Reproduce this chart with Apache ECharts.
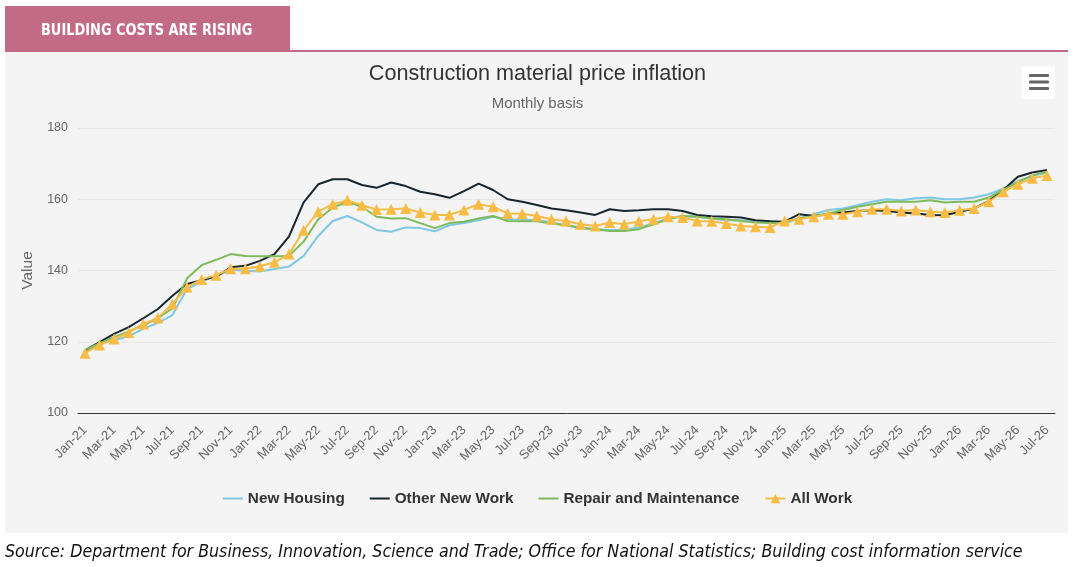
<!DOCTYPE html>
<html>
<head>
<meta charset="utf-8">
<script src="https://cdn.jsdelivr.net/npm/echarts@6/dist/echarts.min.js"></script>
<style>
html,body{margin:0;padding:0;background:#fff;}
#chart{width:1075px;height:567px;}
</style>
</head>
<body>
<div id="chart"></div>
<script>
var months = ["Jan-21","Feb-21","Mar-21","Apr-21","May-21","Jun-21","Jul-21","Aug-21","Sep-21","Oct-21","Nov-21","Dec-21",
"Jan-22","Feb-22","Mar-22","Apr-22","May-22","Jun-22","Jul-22","Aug-22","Sep-22","Oct-22","Nov-22","Dec-22",
"Jan-23","Feb-23","Mar-23","Apr-23","May-23","Jun-23","Jul-23","Aug-23","Sep-23","Oct-23","Nov-23","Dec-23",
"Jan-24","Feb-24","Mar-24","Apr-24","May-24","Jun-24","Jul-24","Aug-24","Sep-24","Oct-24","Nov-24","Dec-24",
"Jan-25","Feb-25","Mar-25","Apr-25","May-25","Jun-25","Jul-25","Aug-25","Sep-25","Oct-25","Nov-25","Dec-25",
"Jan-26","Feb-26","Mar-26","Apr-26","May-26","Jun-26","Jul-26"];

var newHousing = [117.4,119.4,120.4,121.6,123.6,125.3,127.5,134.8,136.9,138.5,140.2,139.9,
139.7,140.4,141.1,144.1,149.7,153.9,155.3,153.5,151.4,150.9,152.1,151.9,
151.0,152.7,153.3,154.1,155.1,154.4,154.2,154.2,153.5,152.7,151.8,151.6,
151.4,151.4,152.1,153.2,154.6,155.3,155.1,154.6,154.1,154.1,153.8,153.8,
153.5,154.7,155.8,157.0,157.4,158.3,159.3,160.0,159.7,160.3,160.5,160.0,
160.0,160.5,161.4,163.0,165.1,166.5,167.5];

var otherNewWork = [117.6,119.9,122.2,124.1,126.6,129.2,132.9,136.2,137.3,138.3,140.9,141.3,
142.7,144.6,149.6,159.1,164.2,165.6,165.6,164.0,163.2,164.7,163.7,162.1,
161.4,160.4,162.3,164.4,162.6,160.0,159.3,158.4,157.4,156.9,156.3,155.6,
157.2,156.7,156.9,157.2,157.2,156.7,155.6,155.2,155.1,154.9,154.1,153.8,
153.7,155.8,155.3,155.8,156.3,156.7,156.9,156.7,156.3,156.0,155.6,155.5,
156.5,157.4,159.5,162.6,166.3,167.5,168.2];

var repairMaintenance = [117.7,119.6,121.3,122.9,124.7,126.6,129.4,137.8,141.5,143.0,144.6,144.1,
144.0,144.0,144.1,148.1,154.4,157.7,159.3,157.9,155.1,154.6,154.7,153.3,
151.9,153.3,153.7,154.6,155.3,153.9,153.8,153.8,153.2,152.7,152.1,151.6,
151.1,151.1,151.6,153.0,154.4,155.3,155.1,154.6,154.4,153.9,153.5,153.3,
153.3,154.6,155.3,156.0,157.0,157.9,158.6,159.3,159.3,159.3,159.7,159.1,
159.3,159.3,160.5,162.6,164.8,166.7,167.7];

var allWork = [116.8,119.1,120.8,122.6,125.0,126.7,130.6,135.3,137.5,138.7,140.5,140.5,
141.2,142.3,144.6,151.3,156.5,158.6,159.7,158.3,157.1,157.2,157.4,156.3,
155.6,155.6,157.0,158.6,157.9,156.0,155.9,155.3,154.4,153.9,153.0,152.5,
153.5,153.0,153.8,154.4,155.1,154.9,153.9,153.8,153.2,152.5,152.3,152.1,
153.9,154.4,155.1,155.8,155.8,156.5,157.2,157.2,156.7,157.0,156.5,156.3,
156.9,157.4,159.3,162.1,164.2,165.9,166.7];

var yTicks = {min: 100, max: 180, interval: 20};

var chart = echarts.init(document.getElementById('chart'));
var FONT = '"Liberation Sans", Arial, sans-serif';
var COND = '"Liberation Sans Narrow", "DejaVu Sans Condensed", sans-serif';
var lineIcon = 'path://M0,0L20,0L20,2L0,2Z';
chart.setOption({
  backgroundColor: '#ffffff',
  textStyle: {fontFamily: FONT},
  animation: false,
  title: {
    text: 'Construction material price inflation',
    subtext: 'Monthly basis',
    left: 'center',
    top: 58,
    itemGap: 11,
    textStyle: {fontSize: 21.6, fontWeight: 'normal', color: '#333333', fontFamily: FONT},
    subtextStyle: {fontSize: 15, color: '#666666', fontFamily: FONT}
  },
  graphic: [
    {type: 'rect', z: -100, shape: {x: 5, y: 52, width: 1063, height: 481}, style: {fill: '#f4f4f4'}},
    {type: 'rect', z: 10, shape: {x: 5, y: 6, width: 285, height: 45}, style: {fill: '#c26a86'}},
    {type: 'rect', z: 10, shape: {x: 5, y: 50, width: 1063, height: 2}, style: {fill: '#c26a86'}},
    {type: 'text', z: 11, x: 41, y: 31, scaleX: 0.9, style: {text: 'BUILDING COSTS ARE RISING', fill: '#ffffff',
      font: 'bold 16px ' + COND, textVerticalAlign: 'middle'}},
    {type: 'rect', z: 10, shape: {x: 1022, y: 66, width: 33, height: 33, r: 3}, style: {fill: '#ffffff'}},
    {type: 'rect', z: 11, shape: {x: 1029, y: 74, width: 20, height: 3, r: 1}, style: {fill: '#666666'}},
    {type: 'rect', z: 11, shape: {x: 1029, y: 80.5, width: 20, height: 3, r: 1}, style: {fill: '#666666'}},
    {type: 'rect', z: 11, shape: {x: 1029, y: 87, width: 20, height: 3, r: 1}, style: {fill: '#666666'}},
    {type: 'text', z: 11, x: 5, y: 552, scaleX: 0.98, style: {text: 'Source: Department for Business, Innovation, Science and Trade; Office for National Statistics; Building cost information service',
      fill: '#111111', font: 'italic 18px ' + COND, textVerticalAlign: 'middle'}}
  ],
  legend: {
    top: 486,
    left: 'center',
    itemGap: 25,
    itemWidth: 20,
    itemHeight: 12,
    textStyle: {fontSize: 15.3, fontWeight: 'bold', color: '#333333', fontFamily: FONT},
    data: [
      {name: 'New Housing', icon: lineIcon},
      {name: 'Other New Work', icon: lineIcon},
      {name: 'Repair and Maintenance', icon: lineIcon},
      {name: 'All Work'}
    ]
  },
  grid: [
    {left: 85, right: 28, top: 128, bottom: 154},
    {left: 78, right: 20, top: 128, bottom: 154}
  ],
  xAxis: [
    {
      type: 'category', gridIndex: 0,
      data: months,
      boundaryGap: false,
      axisLine: {show: false},
      axisTick: {show: false},
      splitLine: {show: false},
      axisLabel: {interval: 1, rotate: 45, fontSize: 13, color: '#666666', fontFamily: FONT, margin: 15}
    },
    {
      type: 'value', gridIndex: 1, min: 0, max: 1,
      axisLine: {show: true, lineStyle: {color: '#333333', width: 1}},
      axisTick: {show: false}, axisLabel: {show: false}, splitLine: {show: false}
    }
  ],
  yAxis: [
    {
      type: 'value', gridIndex: 0, show: false,
      min: yTicks.min, max: yTicks.max, interval: yTicks.interval,
      splitLine: {show: false}
    },
    {
      type: 'value', gridIndex: 1,
      min: yTicks.min, max: yTicks.max, interval: yTicks.interval,
      name: 'Value',
      nameLocation: 'middle',
      nameGap: 42,
      nameTextStyle: {fontSize: 15.5, color: '#666666', fontFamily: FONT},
      axisLine: {show: false},
      axisTick: {show: false},
      axisLabel: {fontSize: 12.5, color: '#666666', fontFamily: FONT, margin: 10},
      splitLine: {lineStyle: {color: '#e6e6e6', width: 1}}
    }
  ],
  series: [
    {name: 'New Housing', type: 'line', xAxisIndex: 0, yAxisIndex: 0, data: newHousing, symbol: 'none', color: '#7ec8e3', lineStyle: {width: 2}, z: 2},
    {name: 'Other New Work', type: 'line', xAxisIndex: 0, yAxisIndex: 0, data: otherNewWork, symbol: 'none', color: '#17252f', lineStyle: {width: 2}, z: 3},
    {name: 'Repair and Maintenance', type: 'line', xAxisIndex: 0, yAxisIndex: 0, data: repairMaintenance, symbol: 'none', color: '#7cba5c', lineStyle: {width: 2}, z: 4},
    {name: 'All Work', type: 'line', xAxisIndex: 0, yAxisIndex: 0, data: allWork, symbol: 'triangle', symbolSize: 11, showAllSymbol: true, color: '#f7bc45', lineStyle: {width: 2}, z: 5}
  ]
});
</script>
</body>
</html>
